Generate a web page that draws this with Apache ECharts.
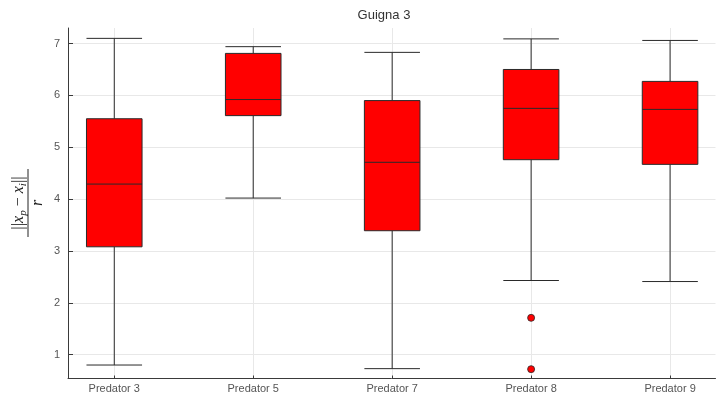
<!DOCTYPE html>
<html>
<head>
<meta charset="utf-8">
<script src="https://cdn.jsdelivr.net/npm/echarts@6/dist/echarts.min.js"></script>
<style>html,body{margin:0;padding:0;background:#fff}#c{width:723px;height:400px}</style>
</head>
<body>
<div id="c"></div>
<script>
// ---- data ----
const categories = ['Predator 3', 'Predator 5', 'Predator 7', 'Predator 8', 'Predator 9'];
const whiskerLow = [0.80, 4.02, 0.73, 2.43, 2.41];
const q1 = [3.08, 5.61, 3.39, 4.76, 4.67];
const median = [4.29, 5.92, 4.71, 5.75, 5.73];
const q3 = [5.55, 6.81, 5.90, 6.50, 6.27];
const whiskerHigh = [7.10, 6.94, 6.83, 7.09, 7.06];
const outliers = [[3, 1.71], [3, 0.72]]; // [category index, value]
const yTicks = [1, 2, 3, 4, 5, 6, 7];
const titleText = 'Guigna 3';

const boxData = categories.map((c, i) => [i, whiskerLow[i], q1[i], median[i], q3[i], whiskerHigh[i]]);
const xPositions = categories.map((c, i) => i);

const chart = echarts.init(document.getElementById('c'), null, {renderer: 'canvas'});
const axisColor = '#3a3a3a';
const gridColor = '#e8e8e8';
const labelColor = '#555';
const font = 'Liberation Sans, Arial, Helvetica, sans-serif';

const option = {
  animation: false,
  backgroundColor: '#fff',
  title: {
    text: titleText,
    left: 379, top: 4, textAlign: 'center',
    textStyle: {fontSize: 13, fontWeight: 'normal', color: '#333', fontFamily: font}
  },
  grid: {left: 68, right: 7.5, top: 28, bottom: 21.5, containLabel: false},
  xAxis: {
    type: 'value', min: -0.333, max: 4.327,
    axisLine: {show: true, onZero: false, lineStyle: {color: axisColor, width: 1}},
    axisTick: {show: true, inside: true, length: 3, customValues: xPositions, lineStyle: {color: axisColor}},
    axisLabel: {show: true, customValues: xPositions, margin: 5, fontSize: 11, color: labelColor, fontFamily: font,
      formatter: v => categories[Math.round(v)] || ''},
    splitLine: {show: true, lineStyle: {color: gridColor, width: 1}}
  },
  yAxis: {
    type: 'value', min: 0.54, max: 7.30,
    axisLine: {show: true, onZero: false, lineStyle: {color: axisColor, width: 1}},
    axisTick: {show: true, inside: true, length: 5, customValues: yTicks, lineStyle: {color: axisColor}},
    axisLabel: {show: true, customValues: yTicks, margin: 8, fontSize: 11, color: labelColor, fontFamily: font},
    splitLine: {show: true, lineStyle: {color: gridColor, width: 1}}
  },
  graphic: [{
    type: 'group',
    x: 28, y: 203,
    rotation: Math.PI / 2,
    children: [
      {
        type: 'text',
        x: 0, y: -9,
        style: {
          text: '{b|||}{v|x}{s|p}{o| − }{v|x}{s|i}{b|||}',
          align: 'center', verticalAlign: 'middle',
          rich: {
            b: {fontFamily: 'Liberation Serif, serif', fontSize: 17, lineHeight: 19, fill: '#222', verticalAlign: 'middle'},
            v: {fontFamily: 'Liberation Serif, serif', fontStyle: 'italic', fontSize: 16, lineHeight: 19, fill: '#222', verticalAlign: 'middle'},
            o: {fontFamily: 'Liberation Serif, serif', fontSize: 16, lineHeight: 19, fill: '#222', verticalAlign: 'middle'},
            s: {fontFamily: 'Liberation Serif, serif', fontStyle: 'italic', fontSize: 11, lineHeight: 8, fill: '#222', verticalAlign: 'bottom'}
          }
        }
      },
      {type: 'line', shape: {x1: -34, y1: 0, x2: 34, y2: 0}, style: {stroke: '#222', lineWidth: 1}},
      {
        type: 'text', x: 0, y: 10,
        style: {text: 'r', font: 'italic 16px "Liberation Serif", serif', fill: '#222', align: 'center', verticalAlign: 'middle'}
      }
    ]
  }],
  series: [
    {
      type: 'custom',
      data: boxData,
      encode: {x: 0, y: [1, 2, 3, 4, 5]},
      renderItem: function (params, api) {
        const x = api.value(0);
        const lo = api.value(1), a = api.value(2), m = api.value(3), b = api.value(4), hi = api.value(5);
        const hw = 0.2;
        const pl = api.coord([x - hw, lo]), pr = api.coord([x + hw, lo]);
        const cx = api.coord([x, lo])[0];
        const yLo = api.coord([x, lo])[1], yA = api.coord([x, a])[1], yM = api.coord([x, m])[1];
        const yB = api.coord([x, b])[1], yHi = api.coord([x, hi])[1];
        const xl = pl[0], xr = pr[0];
        const ls = {stroke: '#2a2a2a', lineWidth: 1};
        return {
          type: 'group',
          children: [
            {type: 'line', shape: {x1: cx, y1: yHi, x2: cx, y2: yB}, style: ls},
            {type: 'line', shape: {x1: cx, y1: yA, x2: cx, y2: yLo}, style: ls},
            {type: 'line', shape: {x1: xl, y1: yHi, x2: xr, y2: yHi}, style: ls},
            {type: 'line', shape: {x1: xl, y1: yLo, x2: xr, y2: yLo}, style: ls},
            {type: 'rect', shape: {x: xl, y: yB, width: xr - xl, height: yA - yB}, style: {fill: '#ff0000', stroke: '#2a2a2a', lineWidth: 1}},
            {type: 'line', shape: {x1: xl, y1: yM, x2: xr, y2: yM}, style: ls}
          ]
        };
      },
      z: 3
    },
    {
      type: 'scatter',
      data: outliers,
      symbol: 'circle',
      symbolSize: 7,
      itemStyle: {color: '#ff0000', borderColor: '#2a2a2a', borderWidth: 0.8, opacity: 1},
      z: 4
    }
  ]
};
chart.setOption(option);
</script>
</body>
</html>
